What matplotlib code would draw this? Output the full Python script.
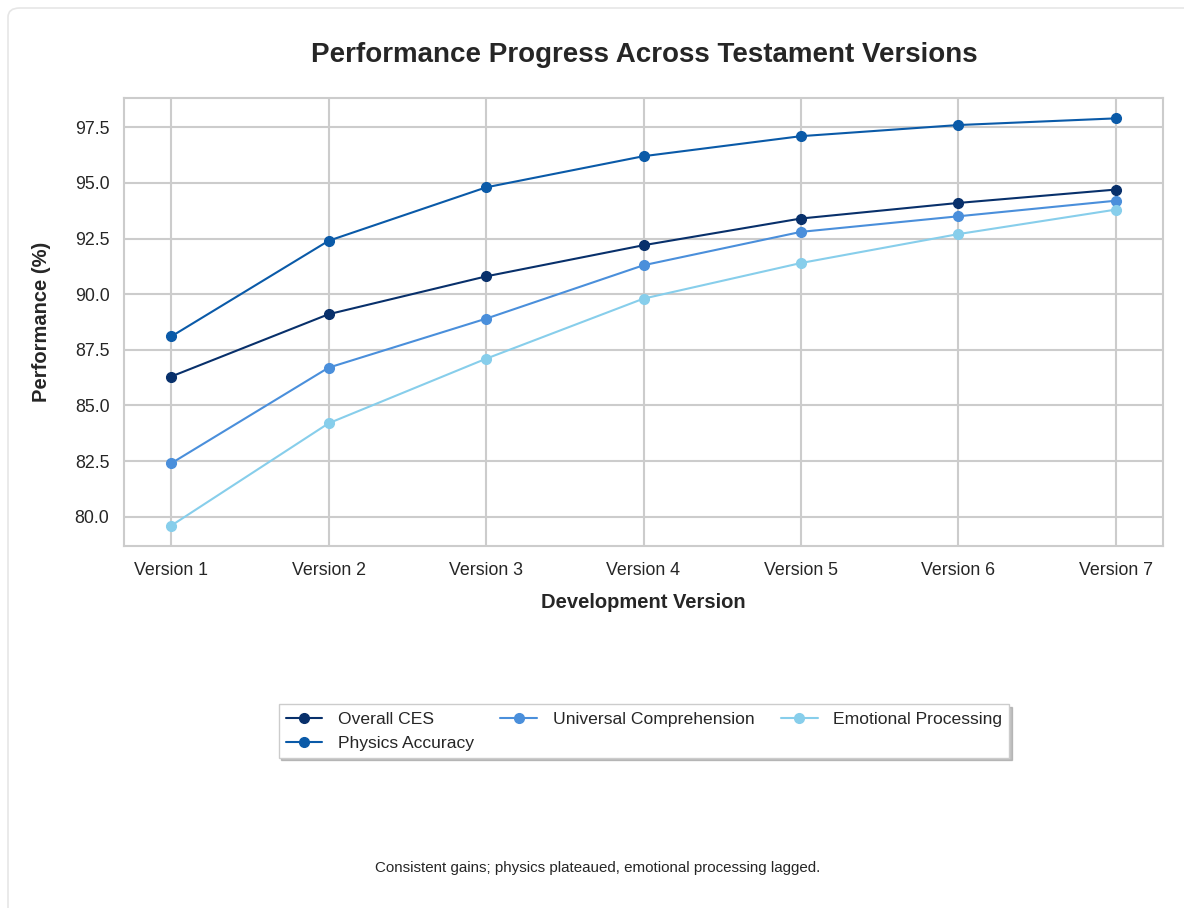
import numpy as np
import matplotlib.pyplot as plt
import seaborn as sns
from matplotlib.patches import FancyBboxPatch

sns.set_style('whitegrid')
plt.rcParams['font.family'] = ['Liberation Sans', 'DejaVu Sans']

# Data
versions = ['Version 1', 'Version 2', 'Version 3', 'Version 4', 'Version 5', 'Version 6', 'Version 7']
overall_ces = [86.3, 89.1, 90.8, 92.2, 93.4, 94.1, 94.7]
physics_accuracy = [88.1, 92.4, 94.8, 96.2, 97.1, 97.6, 97.9]
universal_comp = [82.4, 86.7, 88.9, 91.3, 92.8, 93.5, 94.2]
emotional_proc = [79.6, 84.2, 87.1, 89.8, 91.4, 92.7, 93.8]

series = [
    ('Overall CES', overall_ces, '#08306b'),
    ('Physics Accuracy', physics_accuracy, '#0a5aa8'),
    ('Universal Comprehension', universal_comp, '#4a8fdb'),
    ('Emotional Processing', emotional_proc, '#87ceeb'),
]

fig = plt.figure(figsize=(11.84, 9.08), dpi=100)
W, H = 1184, 908
ax = fig.add_axes([124 / W, 1 - 546 / H, (1163 - 124) / W, (546 - 98) / H])

# card-like frame around the figure
card = FancyBboxPatch((8 / W, -0.05), 1.2, 1 - 8 / H + 0.05,
                      boxstyle='round,pad=0,rounding_size=0.01',
                      transform=fig.transFigure, facecolor='none',
                      edgecolor='#e6e6e6', linewidth=1.2, zorder=0)
fig.patches.append(card)

x = np.arange(len(versions))
for name, vals, col in series:
    ax.plot(x, vals, marker='o', color=col, linewidth=1.5, markersize=7, label=name)

ax.set_xticks(x)
ax.set_xticklabels(versions)
ax.tick_params(axis='both', labelsize=12.8, colors='#262626')
ax.tick_params(axis='x', pad=8)
ax.tick_params(axis='y', pad=7)
ax.set_xlabel('Development Version', fontsize=14.5, fontweight='bold', labelpad=10)
ax.set_ylabel('Performance (%)', fontsize=14.5, fontweight='bold', labelpad=17)
ax.grid(True, color='#cccccc', linewidth=1.5)
for sp in ax.spines.values():
    sp.set_color('#cccccc')
    sp.set_linewidth(1.5)

fig.text(644 / W, 1 - 55 / H, 'Performance Progress Across Testament Versions',
         ha='center', va='center', fontsize=20, fontweight='bold', color='#262626')

leg = fig.legend(loc='center', bbox_to_anchor=(644 / W, 1 - 731 / H), ncol=3,
                 fontsize=12.6, frameon=True, shadow={'color': '#999999', 'alpha': 0.6},
                 fancybox=False, columnspacing=1.5, handlelength=2.1, handletextpad=0.9)
leg.get_frame().set_edgecolor('#cccccc')

fig.text(598 / W, 1 - 868 / H,
         'Consistent gains; physics plateaued, emotional processing lagged.',
         ha='center', va='center', fontsize=10.9, color='#262626')

fig.savefig('out.png', dpi=100)
